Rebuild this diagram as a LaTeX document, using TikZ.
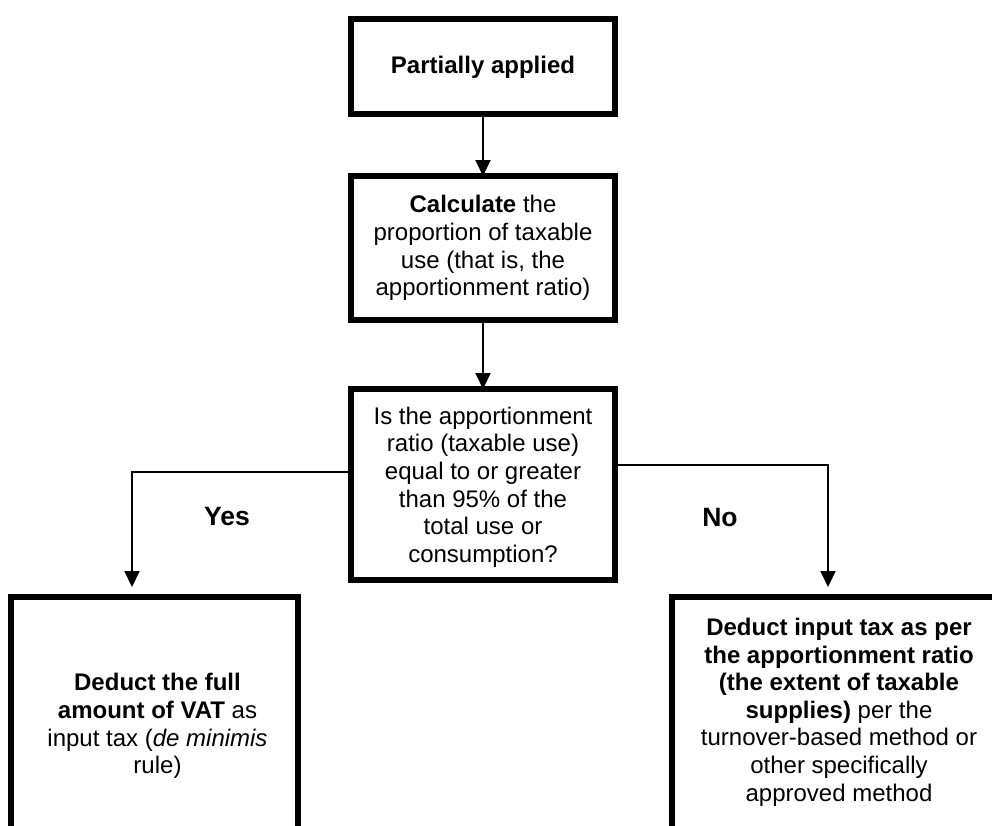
\documentclass[tikz,border=0pt]{standalone}
\usepackage{fontspec}
\setmainfont{Liberation Sans}
\usetikzlibrary{arrows.meta}
\begin{document}
\begin{tikzpicture}[x=1pt,y=-1pt,
  box/.style={draw=black, line width=6pt, fill=white, inner sep=0pt, outer sep=0pt},
  txt/.style={align=center, inner sep=0pt, font=\fontsize{24}{27.6}\selectfont},
  lbl/.style={inner sep=0pt, font=\fontsize{26.5}{30}\selectfont\bfseries},
  arr/.style={draw=black, line width=2pt, -{Triangle[length=16pt,width=15pt]}}
]
\useasboundingbox[fill=white] (0,0) rectangle (992,825);
\clip (0,0) rectangle (992,825);

\node[box, minimum width=264pt, minimum height=95pt] (b1) at (483,66.5) {};
\node[txt] (t1) at (483,67) {\textbf{Partially applied}};

\node[box, minimum width=264pt, minimum height=144pt] (b2) at (483,248) {};
\node[txt] (t2) at (483,248) {\textbf{Calculate} the\\proportion of taxable\\use (that is, the\\apportionment ratio)};

\node[box, minimum width=264pt, minimum height=191pt] (b3) at (483,484.5) {};
\node[txt] (t3) at (483,487) {Is the apportionment\\ratio (taxable use)\\equal to or greater\\than 95\% of the\\total use or\\consumption?};

\node[box, minimum width=287pt, minimum height=300pt, anchor=north west] (b4) at (11,597) {};
\node[txt] (t4) at (157.5,726) {\textbf{Deduct the full}\\\textbf{amount of VAT} as\\input tax (\textit{de minimis}\\rule)};

\node[box, minimum width=330pt, minimum height=300pt, anchor=north west] (b5) at (672,597) {};
\node[txt] (t5) at (839,712) {\textbf{Deduct input tax as per}\\\textbf{the apportionment ratio}\\\textbf{(the extent of taxable}\\\textbf{supplies)} per the\\turnover-based method or\\other specifically\\approved method};

\coordinate (yesend) at (132,587);
\coordinate (noend) at (828,587);

\draw[arr] (b1.south) -- (b2.north);
\draw[arr] (b2.south) -- (b3.north);
\draw[arr] ([yshift=12.5pt]b3.west) -| (yesend);
\draw[arr] ([yshift=19.5pt]b3.east) -| (noend);

\node[lbl] (yes) at (227,517) {Yes};
\node[lbl] (no) at (720,518) {No};
\end{tikzpicture}
\end{document}
